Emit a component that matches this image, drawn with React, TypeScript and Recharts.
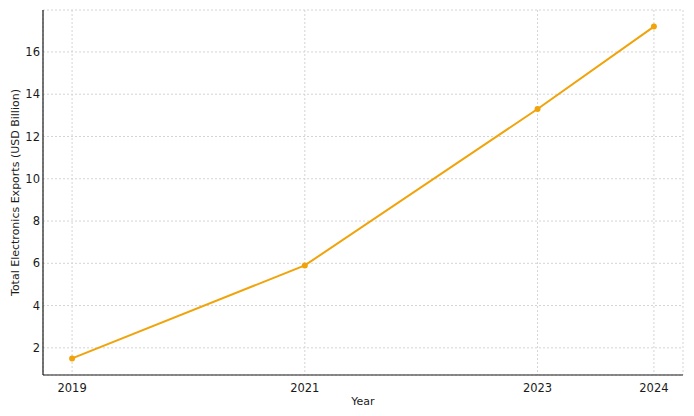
import {
  CartesianGrid,
  Line,
  LineChart,
  XAxis,
  YAxis,
} from 'recharts';

const years = [2019, 2021, 2023, 2024];
const exportsUsd = [1.5, 5.9, 13.3, 17.2];
const yTicks = [2, 4, 6, 8, 10, 12, 14, 16];

const data = years.map((year, i) => ({ year, value: exportsUsd[i] }));

const ink = '#1a1a1a';
const lineColor = '#f0a30a';
const font = '"DejaVu Sans", sans-serif';

export default function App() {
  return (
    <div style={{ position: 'absolute', left: 0, top: 0, background: '#fff', fontFamily: font }}>
      <LineChart
        width={694}
        height={416}
        data={data}
        margin={{ top: 10, right: 11, left: 0, bottom: 0 }}
      >
        <CartesianGrid stroke="#d4d4d4" strokeDasharray="2 2" />
        <XAxis
          dataKey="year"
          type="number"
          domain={[2018.75, 2024.25]}
          ticks={years}
          height={41}
          axisLine={{ stroke: ink, strokeWidth: 1.2 }}
          tickLine={false}
          tick={{ fill: ink, fontSize: 11.5, fontFamily: font }}
          tickMargin={3}
          label={{ value: 'Year', position: 'insideBottom', offset: 11, fill: ink, fontSize: 11, fontFamily: font }}
        />
        <YAxis
          type="number"
          domain={[0.715, 17.985]}
          ticks={yTicks}
          width={43}
          axisLine={{ stroke: ink, strokeWidth: 1.2 }}
          tickLine={false}
          tickSize={3}
          tick={{ fill: ink, fontSize: 11.5, fontFamily: font }}
          tickMargin={0}
          label={{
            value: 'Total Electronics Exports (USD Billion)',
            angle: -90,
            position: 'insideLeft',
            offset: 15,
            style: { textAnchor: 'middle' },
            fill: ink,
            fontSize: 11,
            fontFamily: font,
          }}
        />
        <Line
          type="linear"
          dataKey="value"
          stroke={lineColor}
          strokeWidth={2}
          dot={{ r: 3, fill: lineColor, stroke: lineColor, strokeWidth: 0 }}
          isAnimationActive={false}
        />
      </LineChart>
    </div>
  );
}
